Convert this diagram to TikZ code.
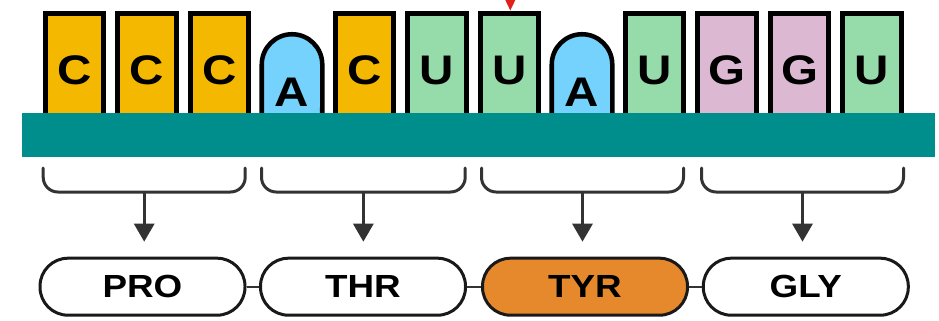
\documentclass[tikz,border=0pt]{standalone}
\usepackage{fontspec}
\setmainfont{Liberation Sans}[FakeStretch=1.15]
\usetikzlibrary{arrows.meta}
\definecolor{baseC}{HTML}{F5B800}
\definecolor{baseU}{HTML}{96DCAA}
\definecolor{baseA}{HTML}{74D2FC}
\definecolor{baseG}{HTML}{DCB8D2}
\definecolor{strand}{HTML}{008E8C}
\definecolor{tyrfill}{HTML}{E6892C}
\definecolor{ink}{HTML}{333333}
\definecolor{marker}{HTML}{E0201B}
\begin{document}
\begin{tikzpicture}[x=0.75pt,y=-0.75pt,
  nucbox/.style={line width=3.4pt,draw=black,line join=miter},
  letter/.style={inner sep=0pt,font=\bfseries\fontsize{31}{31}\selectfont},
  codon/.style={line width=2.25pt,draw=ink,rounded corners=11pt,line cap=round},
  pointer/.style={line width=2.25pt,draw=ink,-{Triangle[width=15pt,length=13.5pt]},shorten >=11.25pt},
  pill/.style={line width=2.25pt,draw=black!90,fill=white,rounded corners=21pt,
    minimum width=153.75pt,minimum height=42.75pt,inner sep=0pt,
    font=\bfseries\fontsize{24}{24}\selectfont},
  link/.style={line width=1.6pt,draw=ink}]
\useasboundingbox (0,0) rectangle (939,321);

% square-topped bases: x centre / colour / letter
\foreach \x/\c/\l [count=\i] in {74.5/baseC/C,147/baseC/C,219.5/baseC/C,364.5/baseC/C,
    437/baseU/U,509.5/baseU/U,654.5/baseU/U,727/baseG/G,799.5/baseG/G,872/baseU/U}{
  \draw[nucbox,fill=\c] (\x-29.25,135) rectangle (\x+29.25,13.5);
  \node[letter] (n\i) at (\x,70) {\l};
}
% round-topped bases (A)
\foreach \x [count=\i] in {292,582}{
  \draw[nucbox,fill=baseA] (\x-30.25,135) -- (\x-30.25,64.5)
     arc[start angle=180,end angle=0,radius=22.7pt] -- (\x+30.25,135) -- cycle;
  \node[letter] (a\i) at (\x,92) {A};
}

% RNA backbone strand
\fill[strand] (22,112.7) rectangle (935,156.7);

% position marker
\fill[marker] (505.3,0) -- (515.3,0) -- (510.3,10.5) -- cycle;

% amino acid chain
\node[pill] (pro) at (142.5,286.7) {PRO};
\node[pill] (thr) at (363,286.7) {THR};
\node[pill,fill=tyrfill] (tyr) at (585,286.7) {TYR};
\node[pill] (gly) at (805.8,286.7) {GLY};
\draw[link] (pro.east) -- (thr.west);
\draw[link] (thr.east) -- (tyr.west);
\draw[link] (tyr.east) -- (gly.west);

% codon braces and arrows
\foreach \a/\b/\p [count=\i] in {43.2/245.2/pro,261.5/465.2/thr,481.5/683.5/tyr,701.5/903.5/gly}{
  \draw[codon] (\a,168) -- (\a,192) -- (\b,192) -- (\b,168);
  \coordinate (m\i) at ({(\a+\b)/2},192);
  \draw[pointer] (m\i) -- (m\i |- \p.north);
}
\end{tikzpicture}
\end{document}
